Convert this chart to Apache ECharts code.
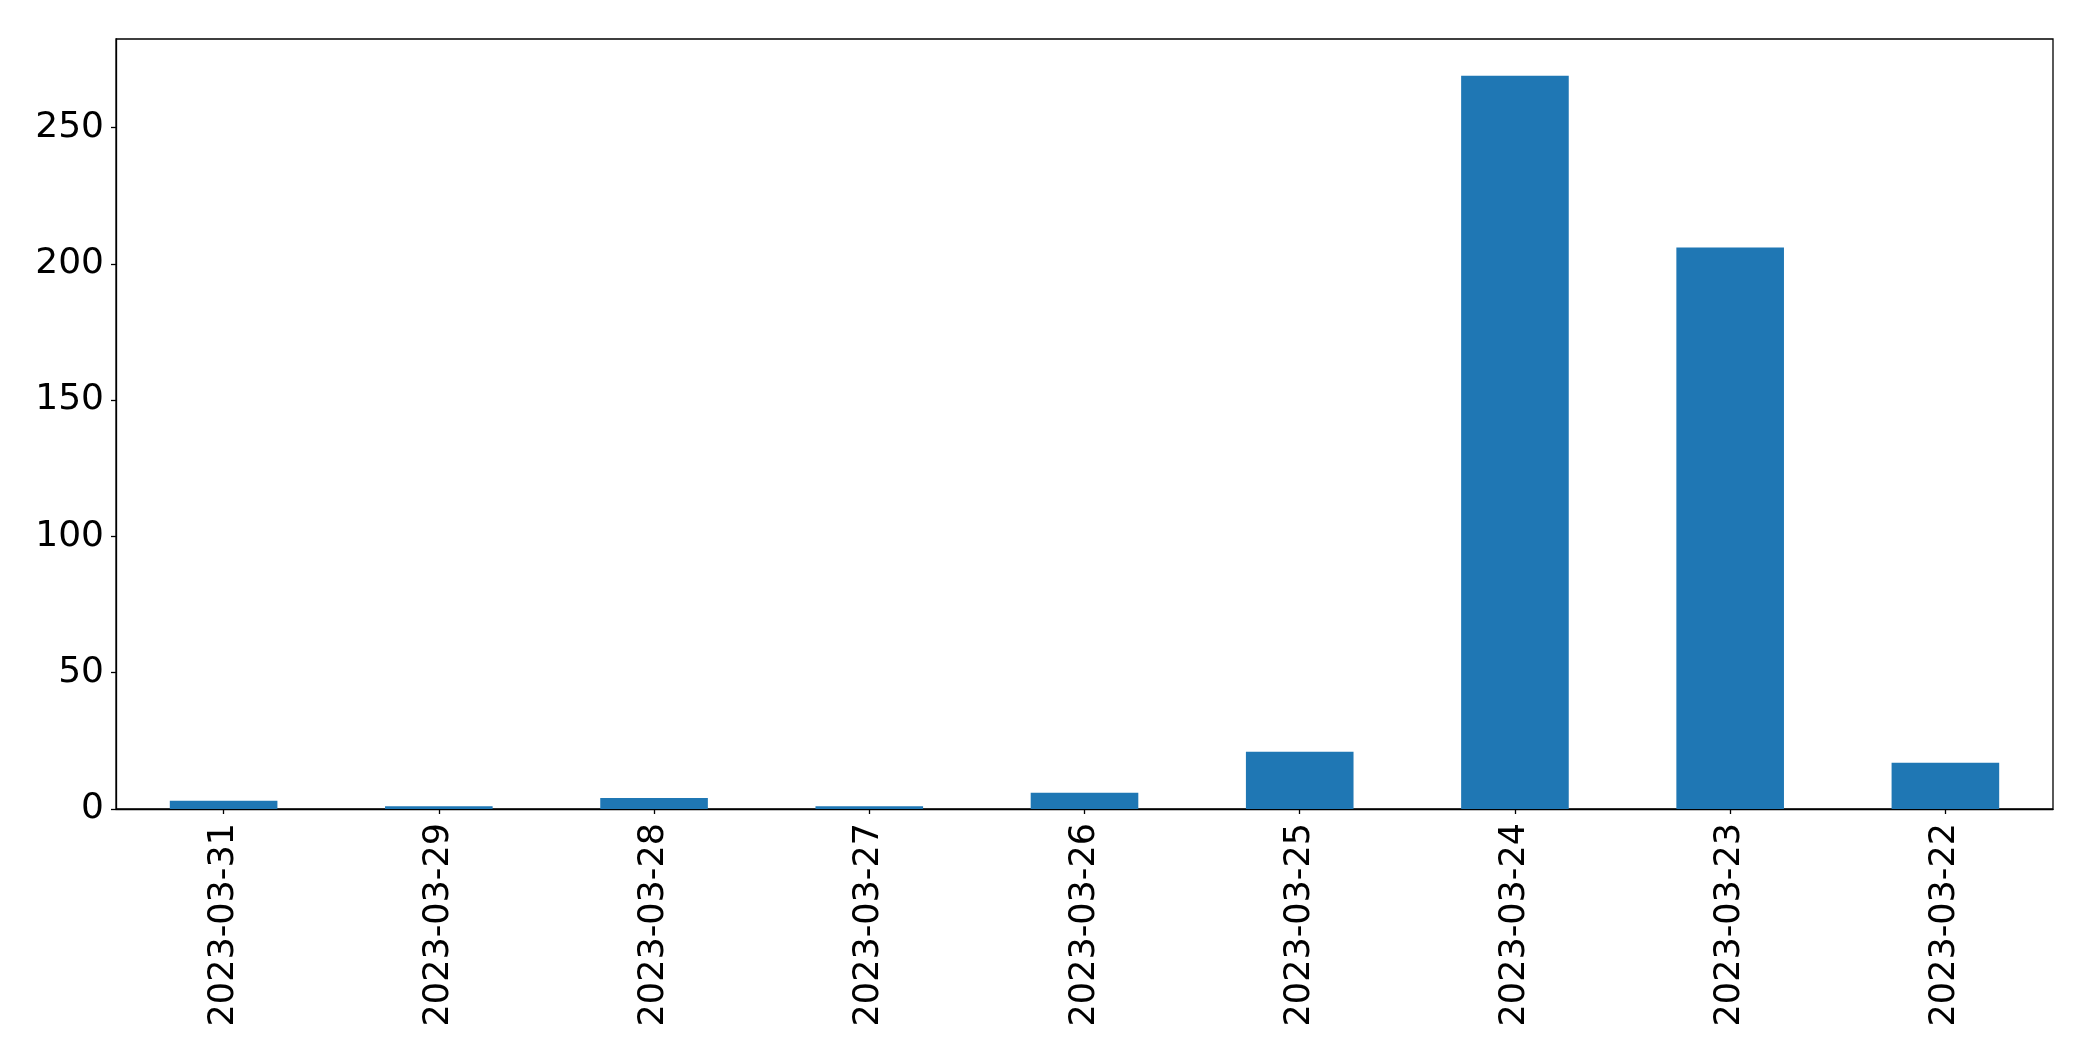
<!DOCTYPE html>
<html>
<head>
<meta charset="utf-8">
<script src="https://cdn.jsdelivr.net/npm/echarts@6/dist/echarts.min.js"></script>
<style>
html,body{margin:0;padding:0;background:#fff;}
#chart{width:2093px;height:1061px;}
</style>
</head>
<body>
<div id="chart"></div>
<script>
const categories = ['2023-03-31','2023-03-29','2023-03-28','2023-03-27','2023-03-26','2023-03-25','2023-03-24','2023-03-23','2023-03-22'];
const values = [3, 1, 4, 1, 6, 21, 269, 206, 17];
const yTicks = [0, 50, 100, 150, 200, 250];

const yMax = Math.max(...values) * 1.05;
const font = 'DejaVu Sans';
const chart = echarts.init(document.getElementById('chart'), null, {renderer: 'canvas'});
chart.setOption({
  animation: false,
  backgroundColor: '#fff',
  grid: {
    left: 116, right: 40, top: 39, bottom: 252,
    show: true, borderColor: '#000', borderWidth: 1.3, backgroundColor: 'transparent'
  },
  xAxis: {
    type: 'category',
    data: categories,
    boundaryGap: true,
    axisLine: {show: true, lineStyle: {color: '#000', width: 1.3}},
    axisTick: {show: true, alignWithLabel: true, length: 5, lineStyle: {color: '#000', width: 1.3}},
    axisLabel: {rotate: 90, fontFamily: font, fontSize: 35, color: '#000', margin: 14, interval: 0}
  },
  yAxis: {
    type: 'value',
    min: 0,
    max: yMax,
    interval: 50,
    splitLine: {show: false},
    axisLine: {show: true, lineStyle: {color: '#000', width: 1.3}},
    axisTick: {show: true, length: 5, customValues: yTicks, lineStyle: {color: '#000', width: 1.3}},
    axisLabel: {fontFamily: font, fontSize: 36, color: '#000', margin: 12, customValues: yTicks}
  },
  series: [{
    type: 'bar',
    data: values,
    barWidth: '50%',
    itemStyle: {color: '#1f77b4'}
  }]
});
</script>
</body>
</html>
